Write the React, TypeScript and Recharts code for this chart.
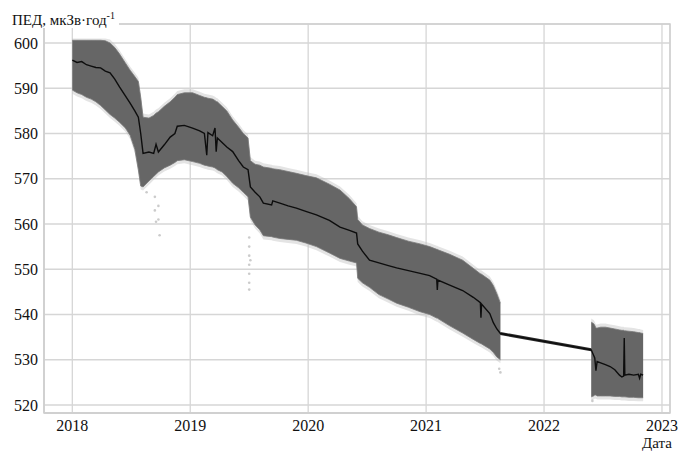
import React from "react";
import {
  ComposedChart,
  Area,
  Line,
  Scatter,
  XAxis,
  YAxis,
  CartesianGrid,
  ReferenceArea,
} from "recharts";

// decimal year of each reading
const years = [
  2018.0, 2018.04, 2018.08, 2018.12, 2018.16, 2018.2, 2018.24, 2018.28, 2018.32, 2018.36,
  2018.4, 2018.45, 2018.49, 2018.53, 2018.56, 2018.58, 2018.6, 2018.65, 2018.69, 2018.71,
  2018.73, 2018.78, 2018.83, 2018.87, 2018.89, 2018.95, 2019.02, 2019.08, 2019.12, 2019.14,
  2019.15, 2019.19, 2019.21, 2019.22, 2019.23, 2019.27, 2019.31, 2019.36, 2019.41, 2019.45,
  2019.49, 2019.51, 2019.55, 2019.59, 2019.62, 2019.69, 2019.7, 2019.76, 2019.83, 2019.9,
  2019.98, 2020.07, 2020.18, 2020.27, 2020.35, 2020.41, 2020.42, 2020.46, 2020.52, 2020.6,
  2020.68, 2020.75, 2020.85, 2020.95, 2021.03, 2021.09, 2021.095, 2021.1, 2021.2, 2021.31,
  2021.4, 2021.46, 2021.465, 2021.47, 2021.54, 2021.57, 2021.6, 2021.63,
  2022.0,
  2022.4, 2022.42, 2022.43, 2022.44, 2022.45, 2022.48, 2022.52, 2022.56, 2022.6, 2022.64,
  2022.66, 2022.675, 2022.68, 2022.685, 2022.72, 2022.76, 2022.8, 2022.81, 2022.82, 2022.84,
];

// averaged dose rate (black line)
const mean = [
  596.2, 595.7, 595.9, 595.2, 594.9, 594.6, 594.5, 593.8, 593.4, 592.0,
  590.3, 588.3, 586.7, 585.0, 583.6, 580.0, 575.6, 575.9, 575.6, 577.6,
  575.9, 577.5, 579.2, 580.0, 581.6, 581.8, 581.2, 580.6, 580.0, 575.2,
  580.2, 579.5, 581.2, 576.0, 579.0, 578.0, 577.0, 576.0, 574.0, 572.6,
  572.0, 568.2, 567.0, 566.0, 564.6, 564.2, 565.1, 564.6, 564.0, 563.5,
  562.8, 562.0, 560.8, 559.3, 558.6, 558.0, 555.6, 554.0, 552.0, 551.4,
  550.8, 550.3, 549.7, 549.1, 548.6, 547.8, 545.4, 547.6, 546.5, 545.3,
  543.8, 542.6, 539.3, 542.3, 540.2, 538.2, 536.8, 535.8,
  null,
  532.2, 531.0, 530.4, 527.6, 529.6, 529.3, 528.9, 528.5, 527.8, 526.6,
  526.2, 526.4, 534.8, 526.6, 526.8, 526.6, 526.8, 525.9, 526.8, 526.6,
];

// lower edge of the cloud of single measurements
const lower = [
  589.6, 589.0, 588.6, 588.0, 587.6, 587.0, 586.2, 585.2, 584.2, 583.4,
  582.5, 581.2, 579.6, 576.5, 572.0, 568.4, 568.2, 569.5, 570.5, 571.0,
  571.5, 572.4, 573.0, 573.6, 574.0, 574.2, 573.8, 573.4, 573.0, 572.9,
  572.8, 572.6, 572.4, 572.2, 572.0, 571.5, 570.5, 569.0, 568.0, 567.0,
  566.0, 561.5, 559.8, 558.7, 557.4, 557.2, 557.1, 556.8, 556.6, 556.4,
  555.8, 555.0, 553.6, 552.4, 551.8, 551.4, 548.0, 547.0, 546.0, 544.4,
  543.4, 542.5, 541.6, 540.6, 540.0, 539.2, 539.2, 539.1, 537.5, 535.9,
  534.5, 533.6, 533.6, 533.5, 532.4, 531.6, 530.6, 530.0,
  null,
  521.8, 522.0, 522.2, 522.2, 522.0, 522.0, 522.0, 522.0, 521.9, 521.9,
  521.8, 521.8, 521.8, 521.8, 521.7, 521.7, 521.6, 521.6, 521.6, 521.6,
];

// upper edge of the cloud of single measurements
const upper = [
  600.6, 600.6, 600.6, 600.6, 600.6, 600.6, 600.6, 600.5, 600.0, 599.0,
  597.6, 595.6, 594.0, 592.6, 591.5, 588.0, 583.6, 583.4, 584.0, 584.5,
  584.8, 586.0, 587.0, 588.0, 588.6, 589.0, 589.0, 588.4, 588.0, 587.9,
  587.8, 587.6, 587.3, 587.1, 587.0, 586.0, 585.0, 583.0, 581.4, 580.0,
  579.0, 574.0, 573.2, 573.0, 572.6, 572.3, 572.2, 572.0, 571.6, 571.2,
  570.7, 570.2, 568.8, 567.5, 565.6, 563.8, 561.0, 559.8, 559.0, 558.2,
  557.6, 557.0, 556.2, 555.6, 555.0, 554.4, 554.4, 554.3, 553.3, 552.0,
  550.2, 549.0, 549.0, 548.9, 547.6, 546.4, 544.6, 542.5,
  null,
  538.3, 538.0, 537.6, 537.0, 537.0, 537.2, 537.2, 537.0, 536.8, 536.6,
  536.5, 536.5, 536.4, 536.4, 536.3, 536.2, 536.0, 536.0, 535.9, 535.8,
];

// period without measurements
const bridgeYears = [2021.63, 2022.4];
const bridgeValues = [535.8, 532.2];

// isolated single readings outside the cloud
const outlierYears = [
  2018.63, 2018.7, 2018.7, 2018.71, 2018.73, 2018.73, 2018.74, 2019.5, 2019.5, 2019.5,
  2019.5, 2019.5, 2019.5, 2019.5, 2019.51, 2021.62, 2021.63, 2022.41,
];
const outlierValues = [
  567.0, 566.0, 563.0, 560.5, 564.0, 561.0, 557.5, 557.0, 555.0, 553.0,
  551.0, 549.0, 547.0, 545.5, 552.0, 528.0, 527.2, 520.9,
];

const xTicks = [2018, 2019, 2020, 2021, 2022, 2023];
const yTicks = [520, 530, 540, 550, 560, 570, 580, 590, 600];

const X_MIN = 2017.76;
const X_MAX = 2023.068;
const Y_MIN = 518.23;
const Y_MAX = 604.2;
const HALO = 0.8;

const rows = years.map((x, i) => {
  const b = bridgeYears.indexOf(x);
  return {
    x,
    mean: mean[i],
    band: lower[i] == null ? null : [lower[i], upper[i]],
    halo: lower[i] == null ? null : [lower[i] - HALO, Math.min(upper[i] + HALO, 601)],
    bridge: b >= 0 ? bridgeValues[b] : null,
  };
});

const outliers = outlierYears.map((x, i) => ({ x, v: outlierValues[i] }));

const FONT = "'Liberation Serif', 'Times New Roman', serif";

export default function App() {
  return (
    <div style={{ position: "absolute", left: 0, top: 0, width: 685, height: 453, background: "#fff", fontFamily: FONT }}>
      <ComposedChart
        width={685}
        height={453}
        data={rows}
        margin={{ top: 24, right: 15, bottom: 0, left: 0 }}
      >
        <CartesianGrid stroke="#d6d6d6" strokeWidth={1.3} />
        <XAxis
          dataKey="x"
          type="number"
          domain={[X_MIN, X_MAX]}
          ticks={xTicks}
          allowDataOverflow
          height={40}
          tickLine={false}
          tickSize={6}
          tickMargin={1}
          axisLine={{ stroke: "#cfcfcf", strokeWidth: 1.5 }}
          tick={{ fill: "#111", fontSize: 16, fontFamily: FONT }}
        />
        <YAxis
          type="number"
          domain={[Y_MIN, Y_MAX]}
          ticks={yTicks}
          allowDataOverflow
          width={44}
          tickLine={false}
          tickSize={4}
          tickMargin={2}
          axisLine={{ stroke: "#cfcfcf", strokeWidth: 1.5 }}
          tick={{ fill: "#111", fontSize: 16, fontFamily: FONT }}
        />
        <ReferenceArea
          x1={X_MIN}
          x2={X_MAX}
          y1={Y_MIN}
          y2={Y_MAX}
          fill="none"
          stroke="#cfcfcf"
          strokeWidth={1.5}
          ifOverflow="visible"
        />
        <Area
          dataKey="halo"
          type="linear"
          stroke="none"
          fill="#c4c4c4"
          fillOpacity={0.45}
          connectNulls={false}
          isAnimationActive={false}
        />
        <Area
          dataKey="band"
          type="linear"
          stroke="#7a7a7a"
          strokeWidth={0.8}
          fill="#666666"
          fillOpacity={1}
          connectNulls={false}
          isAnimationActive={false}
        />
        <Scatter
          data={outliers}
          dataKey="v"
          fill="#a8a8a8"
          fillOpacity={0.6}
          shape={(p: any) => <circle cx={p.cx} cy={p.cy} r={1.3} fill="#a8a8a8" fillOpacity={0.6} />}
          isAnimationActive={false}
        />
        <Line
          dataKey="bridge"
          type="linear"
          stroke="#2a2a2a"
          strokeWidth={3}
          dot={false}
          connectNulls
          isAnimationActive={false}
        />
        <Line
          dataKey="mean"
          type="linear"
          stroke="#0d0d0d"
          strokeWidth={1.4}
          dot={false}
          connectNulls
          isAnimationActive={false}
        />
      </ComposedChart>
      <div
        style={{
          position: "absolute",
          left: 12,
          top: 8,
          fontSize: 15,
          lineHeight: "15px",
          color: "#111",
          background: "#fff",
          paddingRight: 4,
          whiteSpace: "nowrap",
        }}
      >
        ПЕД, мкЗв·год<sup style={{ fontSize: 10, verticalAlign: "6px" }}>-1</sup>
      </div>
      <div
        style={{
          position: "absolute",
          left: 642,
          top: 436,
          fontSize: 15,
          lineHeight: "15px",
          color: "#111",
        }}
      >
        Дата
      </div>
    </div>
  );
}
